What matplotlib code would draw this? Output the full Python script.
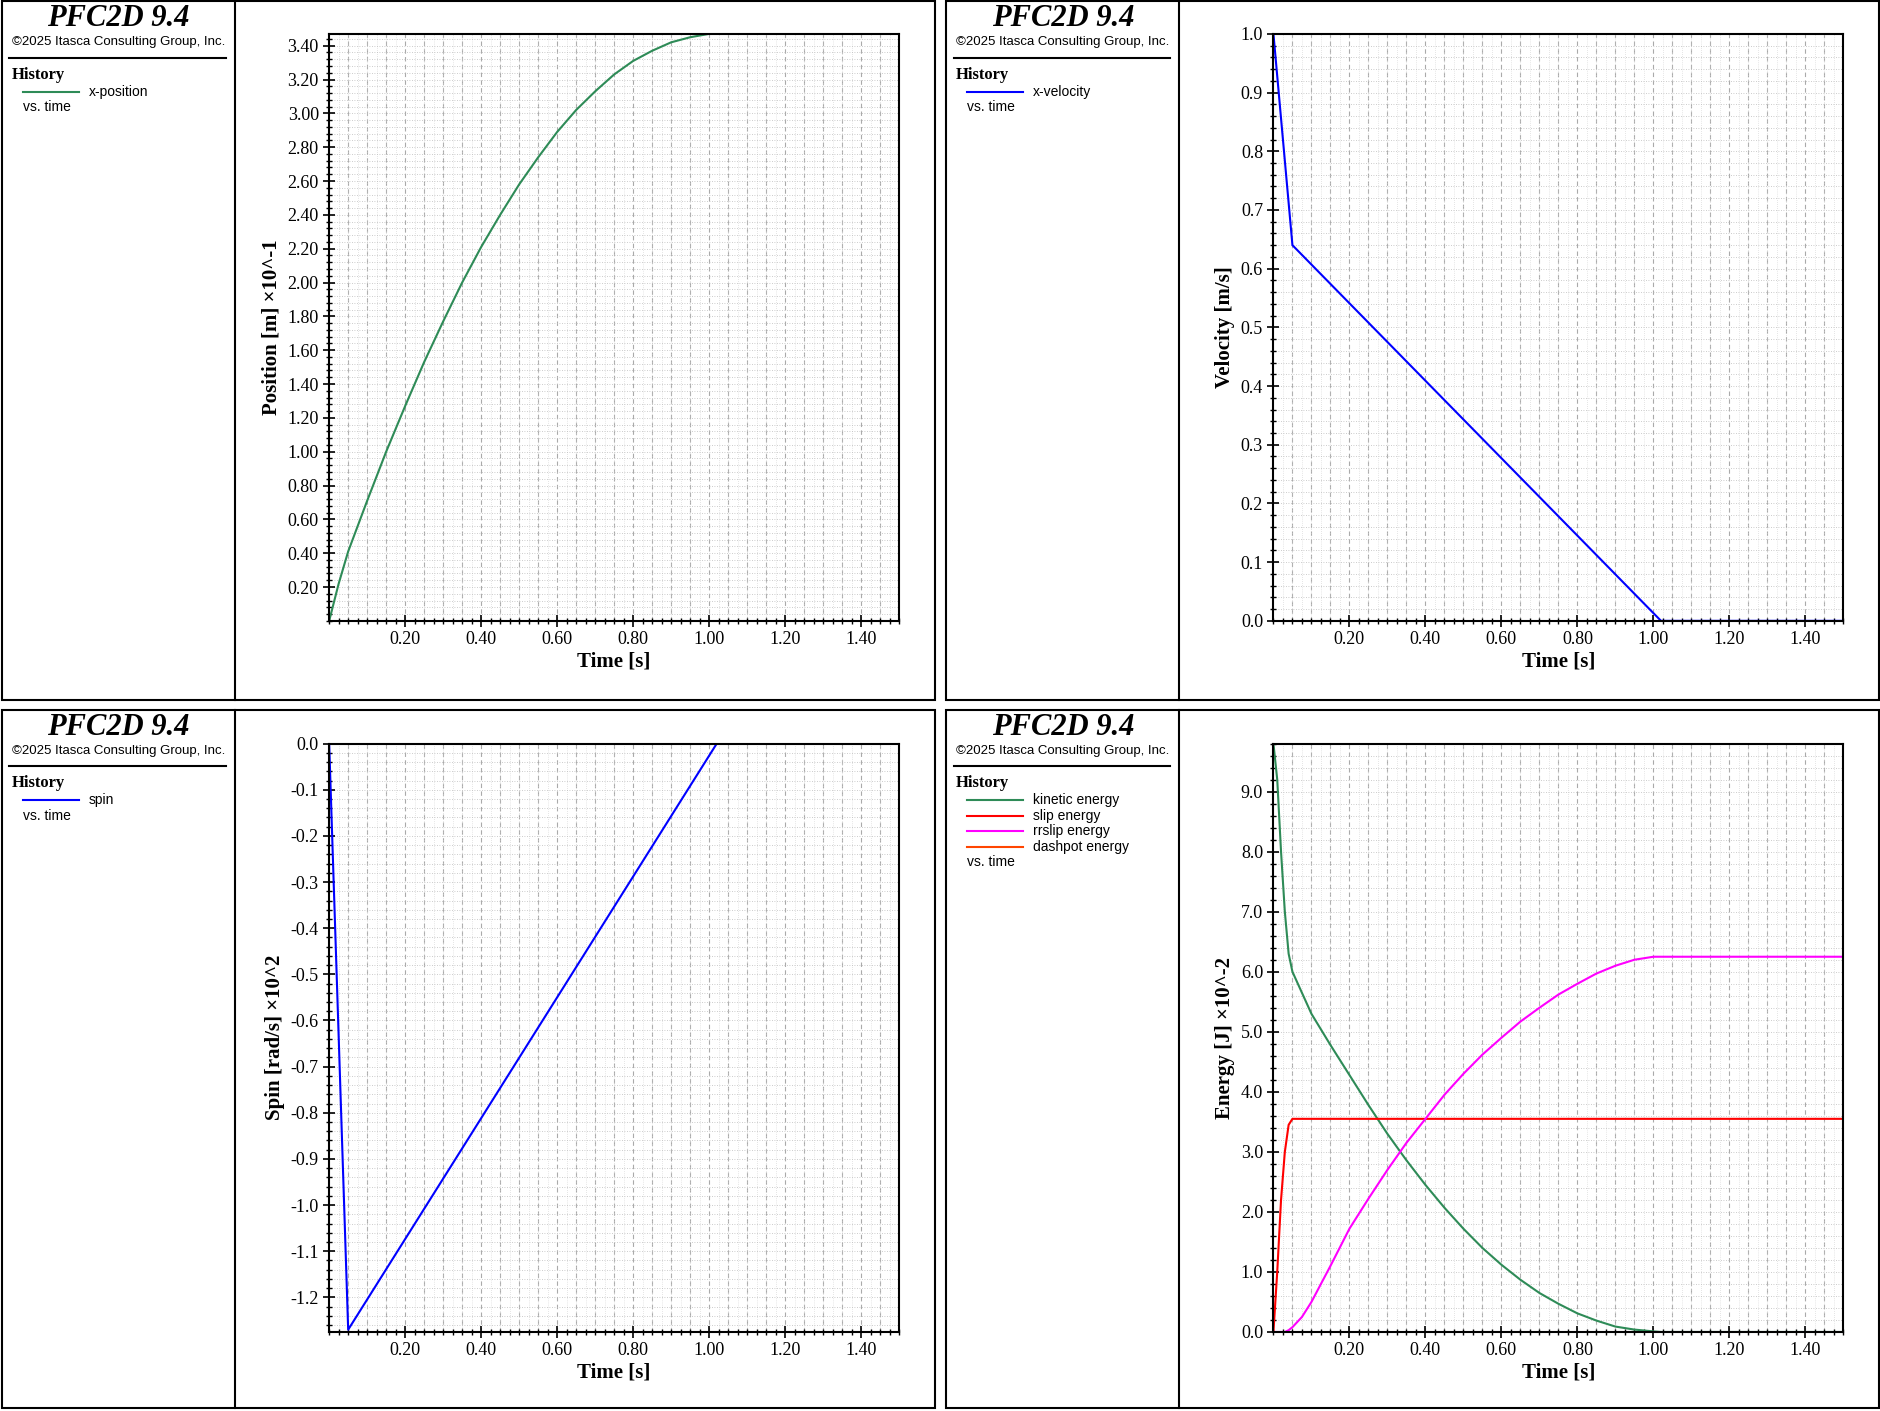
import matplotlib
matplotlib.use("Agg")
import matplotlib.pyplot as plt
import numpy as np
from matplotlib.patches import Rectangle
from matplotlib.lines import Line2D
from matplotlib.ticker import MultipleLocator, FixedLocator, FuncFormatter

plt.rcParams["axes.unicode_minus"] = False

# --- data ---
t_pos = [0, 0.025, 0.05, 0.1, 0.15, 0.2, 0.25, 0.3, 0.35, 0.4, 0.45, 0.5, 0.55, 0.6, 0.65,
         0.7, 0.75, 0.8, 0.85, 0.9, 0.95, 1.0, 1.02, 1.5]
x_pos = [0, 0.22, 0.41, 0.71, 1.00, 1.27, 1.53, 1.77, 2.00, 2.21, 2.40, 2.58, 2.74, 2.89, 3.02,
         3.13, 3.23, 3.31, 3.37, 3.42, 3.45, 3.47, 3.47, 3.47]

t_vel = [0, 0.05, 1.02, 1.5]
x_vel = [1.0, 0.64, 0.0, 0.0]

t_spin = [0, 0.05, 1.02, 1.5]
spin = [0, -1.27, 0.0, 0.0]

t_en = [0, 0.01, 0.02, 0.03, 0.04, 0.05, 0.075, 0.1, 0.15, 0.2, 0.25, 0.3, 0.35, 0.4, 0.45, 0.5,
        0.55, 0.6, 0.65, 0.7, 0.75, 0.8, 0.85, 0.9, 0.95, 1.0, 1.02, 1.5]
kinetic = [9.8, 9.2, 8.0, 7.0, 6.3, 6.0, 5.65, 5.3, 4.78, 4.28, 3.78, 3.30, 2.86, 2.45, 2.07, 1.72,
           1.40, 1.12, 0.87, 0.65, 0.47, 0.31, 0.19, 0.09, 0.04, 0.01, 0, 0]
slip = [0, 1.0, 2.2, 3.0, 3.45, 3.55, 3.55, 3.55, 3.55, 3.55, 3.55, 3.55, 3.55, 3.55, 3.55, 3.55,
        3.55, 3.55, 3.55, 3.55, 3.55, 3.55, 3.55, 3.55, 3.55, 3.55, 3.55, 3.55]
rrslip = [0, 0, 0, 0, 0.03, 0.08, 0.25, 0.5, 1.1, 1.72, 2.22, 2.7, 3.15, 3.55, 3.95, 4.3,
          4.62, 4.9, 5.17, 5.4, 5.62, 5.8, 5.97, 6.1, 6.2, 6.25, 6.25, 6.25]
dashpot = [0] * len(t_en)

SERIF = "Liberation Serif"
SANS = "Liberation Sans"
GREEN = "#2e8b57"

fig = plt.figure(figsize=(18.81, 14.11), dpi=100)

def panel(x0, y0, w, h, ax_rect, entries, ylabel, ylim, ymajor, ndig):
    fig.patches.append(Rectangle((x0, y0), w, h, transform=fig.transFigure, fill=False, lw=1.5, ec="black"))
    fig.add_artist(Line2D([x0 + 0.124, x0 + 0.124], [y0, y0 + h], transform=fig.transFigure, color="black", lw=1.5))
    cx = x0 + 0.062
    fig.text(cx, y0 + h - 0.002, "PFC2D 9.4", ha="center", va="top", fontsize=22, fontfamily=SERIF, weight="bold", style="italic")
    fig.text(cx, y0 + h - 0.029, "\u00a92025 Itasca Consulting Group, Inc.", ha="center", va="center", fontsize=9.5, fontfamily=SANS)
    fig.add_artist(Line2D([x0 + 0.004, x0 + 0.119], [y0 + h - 0.040, y0 + h - 0.040], transform=fig.transFigure, color="black", lw=1.5))
    fig.text(x0 + 0.005, y0 + h - 0.052, "History", va="center", fontsize=12, fontfamily=SERIF, weight="bold")
    yy = y0 + h - 0.064
    for lab, col in entries:
        fig.add_artist(Line2D([x0 + 0.011, x0 + 0.041], [yy, yy], transform=fig.transFigure, color=col, lw=1.5))
        fig.text(x0 + 0.046, yy, lab, va="center", fontsize=10, fontfamily=SANS)
        yy -= 0.011
    fig.text(x0 + 0.011, yy, "vs. time", va="center", fontsize=10, fontfamily=SANS)

    ax = fig.add_axes(ax_rect)
    ax.set_xlim(0, 1.5)
    ax.set_ylim(*ylim)
    ax.xaxis.set_major_locator(FixedLocator([0.2, 0.4, 0.6, 0.8, 1.0, 1.2, 1.4]))
    ax.xaxis.set_minor_locator(MultipleLocator(0.025))
    ax.yaxis.set_major_locator(MultipleLocator(ymajor))
    ax.yaxis.set_minor_locator(MultipleLocator(ymajor / 5))
    ax.set_xticklabels(["0.20", "0.40", "0.60", "0.80", "1.00", "1.20", "1.40"])

    def fmt(v, pos, n=ndig):
        s = f"{v:.{n}f}"
        return s[1:] if s.startswith("-") and float(s) == 0 else s
    ax.yaxis.set_major_formatter(FuncFormatter(fmt))
    for xv in np.arange(0.05, 1.5, 0.05):
        ax.axvline(xv, color="#aaaaaa", lw=0.8, ls=(0, (4, 3)), zorder=0)
    ax.grid(True, which="both", axis="y", color="#bbbbbb", lw=0.6, ls=(0, (1, 2)))
    ax.grid(True, which="minor", axis="x", color="#cccccc", lw=0.5, ls=(0, (1, 2)))
    ax.tick_params(which="major", direction="inout", length=8, width=1.2, labelsize=13)
    ax.tick_params(which="minor", direction="inout", length=4, width=1)
    for lbl in ax.get_xticklabels() + ax.get_yticklabels():
        lbl.set_fontfamily(SERIF)
    ax.set_xlabel("Time [s]", fontsize=15, fontfamily=SERIF, weight="bold", labelpad=2)
    ax.set_ylabel(ylabel, fontsize=15, fontfamily=SERIF, weight="bold", labelpad=4)
    for s in ax.spines.values():
        s.set_linewidth(1.5)
    return ax

ax1 = panel(0.001, 0.504, 0.496, 0.495, [0.175, 0.560, 0.303, 0.416],
            [("x-position", GREEN)], "Position [m] \u00d710^-1", (0, 3.47), 0.2, 2)
ax1.set_yticks(np.arange(0.2, 3.41, 0.2))
ax1.plot(t_pos, x_pos, color=GREEN, lw=1.5)

ax2 = panel(0.503, 0.504, 0.496, 0.495, [0.677, 0.560, 0.303, 0.416],
            [("x-velocity", "blue")], "Velocity [m/s]", (0, 1.0), 0.1, 1)
ax2.plot(t_vel, x_vel, color="blue", lw=1.5)

ax3 = panel(0.001, 0.002, 0.496, 0.495, [0.175, 0.056, 0.303, 0.417],
            [("spin", "blue")], "Spin [rad/s] \u00d710^2", (-1.275, 0.0), 0.1, 1)
ax3.plot(t_spin, spin, color="blue", lw=1.5)

ax4 = panel(0.503, 0.002, 0.496, 0.495, [0.677, 0.056, 0.303, 0.417],
            [("kinetic energy", GREEN), ("slip energy", "red"), ("rrslip energy", "magenta"), ("dashpot energy", "#ff4500")],
            "Energy [J] \u00d710^-2", (0, 9.8), 1.0, 1)
ax4.plot(t_en, kinetic, color=GREEN, lw=1.5)
ax4.plot(t_en, slip, color="red", lw=1.5)
ax4.plot(t_en, rrslip, color="magenta", lw=1.5)
ax4.plot(t_en, dashpot, color="#ff4500", lw=2)

fig.savefig("out.png", dpi=100)
